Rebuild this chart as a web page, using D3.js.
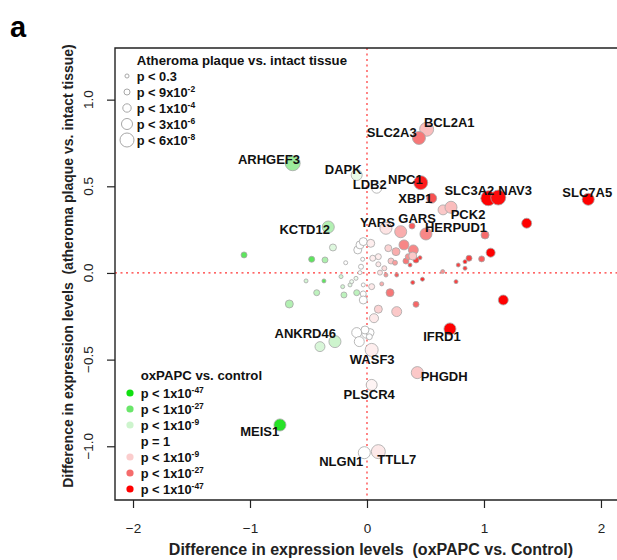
<!DOCTYPE html>
<html><head><meta charset="utf-8">
<script src="https://cdn.jsdelivr.net/npm/d3@7/dist/d3.min.js"></script>
<style>
html,body{margin:0;padding:0;background:#fff;}
svg{display:block;font-family:"Liberation Sans",Arial,sans-serif;}
</style></head>
<body><svg id="chart" width="617" height="560"></svg>
<script>
// ---- data ----
// labelled genes
const genes = ["BCL2A1","SLC2A3","NPC1","XBP1","SLC3A2","NAV3","SLC7A5","PCK2","HERPUD1","YARS","GARS",
 "DAPK","LDB2","ARHGEF3","KCTD12","IFRD1","ANKRD46","WASF3","PHGDH","PLSCR4","MEIS1","NLGN1","TTLL7"];
const geneX = [0.510,0.444,0.459,0.553,1.037,1.122,1.891,0.718,0.504,0.162,0.288,
 -0.088,0.083,-0.635,-0.331,0.709,-0.274,0.040,0.430,0.040,-0.744,-0.023,0.097];
const geneY = [0.829,0.779,0.521,0.431,0.431,0.435,0.425,0.379,0.225,0.258,0.238,
 0.565,0.489,0.633,0.265,-0.323,-0.396,-0.444,-0.575,-0.646,-0.877,-1.037,-1.031];
// signed -log10 p, oxPAPC vs control (negative = lower / green)
const geneOx = [12,25,42,32,47,45,47,12,22,5,15,
 -4,0,-18,-14,47,-9,3,10,2,-42,0,4];
// -log10 p, atheroma plaque vs intact tissue
const geneAth = [7.2,6.65,7.2,4.9,7.85,7.85,6.1,6.1,6.1,6.1,6.1,
 5.5,4.9,7.85,6.1,6.1,6.1,6.65,6.1,5.5,6.1,6.1,7.2];
// unlabelled genes
const otherX = [0.650,1.365,1.009,0.316,0.396,0.248,0.182,0.385,
 -0.291,-0.473,-0.359,-1.051,-0.182,-0.079,-0.060,-0.032,0.032,-0.037,-0.051,-0.060,0.049,0.097,0.097,0.111,0.148,0.162,
 0.205,0.239,0.254,0.333,0.353,0.368,0.419,0.453,0.391,0.647,0.780,0.838,0.838,0.872,0.980,1.057,
 -0.521,-0.368,-0.222,-0.208,-0.145,-0.131,-0.094,-0.430,-0.664,-0.197,-0.088,-0.032,-0.032,-0.032,0.040,0.126,0.197,
 0.391,0.474,0.761,0.419,0.254,0.097,0.060,1.165,
 -0.402,-0.088,-0.066,-0.003,0.026,-0.017,0.020];
const otherY = [0.364,0.287,0.219,0.162,0.133,0.123,0.143,0.271,
 0.147,0.079,0.075,0.104,0.059,0.133,0.162,0.181,0.171,0.079,0.036,0.002,0.085,0.094,0.050,0.002,0.027,-0.012,
 0.069,0.059,-0.012,0.069,0.094,0.046,0.075,0.088,0.098,0.008,0.046,0.027,0.065,0.085,0.081,0.117,
 -0.046,-0.046,-0.021,-0.079,-0.069,-0.050,-0.031,-0.114,-0.179,-0.127,-0.114,-0.069,-0.121,-0.156,-0.079,-0.063,-0.114,
 -0.055,-0.036,-0.050,-0.181,-0.223,-0.209,-0.261,-0.156,
 -0.425,-0.344,-0.396,-0.348,-0.344,-0.329,-0.368];
const otherOx = [10,47,27,22,22,15,8,30,
 -6,-30,-15,-30,0,0,0,0,3,0,0,0,3,3,4,5,6,20,
 10,18,30,25,20,35,35,35,10,20,35,35,40,35,30,47,
 -8,-30,-8,-8,-5,-3,-3,-12,-14,-12,-12,0,0,0,4,15,25,
 35,38,35,28,10,8,4,47,
 -7,0,0,0,0,0,0];
const otherAth = [4.9,4.9,3.5,4.9,4.9,3.5,2.25,1,
 2.25,1,1,1,0.5,3.5,3.5,3.5,3.5,0.5,0.75,0.5,1,1,0.75,0.75,0.75,0.5,
 1,0.75,0.5,1,1,0.5,1,0.5,3.5,0.5,0.5,0.5,0.5,1,1,4.35,
 0.5,0.5,0.5,0.5,0.5,0.5,0.5,1,3.5,1,1,0.5,1,3.5,1,0.5,3.5,
 0.5,0.5,0.5,1,4.9,3.5,4.35,4.9,
 4.9,4.9,4.9,4.9,3.5,3.5,1];
const xTicks = [-2,-1,0,1,2];
const yTicks = [-1,-0.5,0,0.5,1];
const athLegend = [{base:"p < 0.3",sup:"",v:0.523},{base:"p < 9x10",sup:"-2",v:1.046},{base:"p < 1x10",sup:"-4",v:4},{base:"p < 3x10",sup:"-6",v:5.52},{base:"p < 6x10",sup:"-8",v:7.22}];
const oxLegend = [{base:"p < 1x10",sup:"-47",v:-47},{base:"p < 1x10",sup:"-27",v:-27},{base:"p < 1x10",sup:"-9",v:-9},{base:"p = 1",sup:"",v:null},{base:"p < 1x10",sup:"-9",v:9},{base:"p < 1x10",sup:"-27",v:27},{base:"p < 1x10",sup:"-47",v:47}];

// label placement (layout only): anchor, dx, dy in px from the point
const labelPos = {
 BCL2A1:["start",-2.7,-2.1], SLC2A3:["end",-2.3,-0.8], NPC1:["end",2,1.8], XBP1:["end",0.6,4.5],
 SLC3A2:["end",6,-3.1], NAV3:["start",0,-2.5], SLC7A5:["middle",-1,-2], PCK2:["start",-0.3,12.2],
 HERPUD1:["start",-1,-1.8], GARS:["start",-2.4,-9.2], YARS:["end",9,-1.1], DAPK:["end",5,-1.2],
 LDB2:["end",10,0.5], ARHGEF3:["end",7.3,1.2], KCTD12:["end",1.7,6.8], ANKRD46:["end",1,-3.2],
 WASF3:["middle",0.5,13.8], PHGDH:["start",3.4,8.5], PLSCR4:["middle",-2.5,13.8], MEIS1:["end",-0.7,11.2],
 NLGN1:["end",-1,13.5], TTLL7:["start",-1,12.1], IFRD1:["middle",-8,12.5]
};

// ---- scales ----
const W=617,H=560, L=115, T=48, B=500, R=620;
const x = d3.scaleLinear().domain([-2.154,2.137]).range([L,617]);
const y = d3.scaleLinear().domain([-1.31,1.298]).range([B,T]);
const rScale = d3.scaleLinear().domain([0.5,1,4,5.5,7.2,8]).range([2,3,4.2,5.5,7,7.6]);
const col = d3.scaleLinear().domain([-47,-27,-9,0,9,27,47])
  .range(["#10e010","#6ae66a","#cdf4cd","#ffffff","#fbcdcd","#f56c6c","#ff0000"]);

const svg = d3.select("#chart");
svg.append("rect").attr("width",W).attr("height",H).attr("fill","#fff");

// reference lines
svg.append("line").attr("x1",x(0)).attr("x2",x(0)).attr("y1",T).attr("y2",B)
  .attr("stroke","#f33").attr("stroke-width",1.2).attr("stroke-dasharray","2,3.5");
svg.append("line").attr("x1",L).attr("x2",R).attr("y1",y(0)).attr("y2",y(0))
  .attr("stroke","#f33").attr("stroke-width",1.2).attr("stroke-dasharray","2,3.5");

// points
const others = otherX.map((v,i)=>({g:"", x:v, y:otherY[i], ox:otherOx[i], ath:otherAth[i]}));
const labelled = genes.map((g,i)=>({g, x:geneX[i], y:geneY[i], ox:geneOx[i], ath:geneAth[i]}));
const data = others.concat(labelled);
svg.append("g").selectAll("circle").data(data).join("circle")
  .attr("cx",d=>x(d.x)).attr("cy",d=>y(d.y)).attr("r",d=>rScale(d.ath))
  .attr("fill",d=>col(d.ox)).attr("stroke","#a8a8a8").attr("stroke-opacity",0.8).attr("stroke-width",1);

// gene labels
svg.append("g").selectAll("text").data(labelled).join("text")
  .attr("x",d=>x(d.x)+labelPos[d.g][1]).attr("y",d=>y(d.y)+labelPos[d.g][2])
  .attr("text-anchor",d=>labelPos[d.g][0])
  .attr("font-weight","bold").attr("font-size","13px").attr("fill","#111")
  .text(d=>d.g);

// box
svg.append("path").attr("d",`M${R},${T}H${L}V${B}H${R}`).attr("fill","none")
  .attr("stroke","#222").attr("stroke-width",1.4);

// axes
const fmt = d => (d<0?"\u2212":"")+Math.abs(d);
const xa = svg.append("g").attr("transform",`translate(0,${B})`)
  .call(d3.axisBottom(x).tickValues(xTicks).tickSize(8).tickPadding(15).tickFormat(fmt));
xa.select(".domain").remove();
xa.selectAll("text").attr("font-size","13.5px").attr("font-family","Liberation Sans, Arial").attr("fill","#222");
xa.selectAll("line").attr("stroke","#222").attr("stroke-width",1.2);

const ya = svg.append("g").attr("transform",`translate(${L},0)`)
  .call(d3.axisLeft(y).tickValues(yTicks).tickSize(8).tickFormat(()=>""));
ya.select(".domain").remove();
ya.selectAll("line").attr("stroke","#222").attr("stroke-width",1.2);
const yfmt = d => (d<0?"\u2212":"")+d3.format(".1f")(Math.abs(d));
svg.append("g").selectAll("text").data(yTicks).join("text")
  .attr("transform",d=>`translate(93,${y(d)}) rotate(-90)`)
  .attr("text-anchor","middle").attr("font-size","13.5px").attr("fill","#222").text(yfmt);

// axis titles
svg.append("text").attr("x",371).attr("y",555).attr("text-anchor","middle")
  .attr("font-weight","bold").attr("font-size","16px").style("white-space","pre").attr("fill","#222")
  .text("Difference in expression levels  (oxPAPC vs. Control)");
svg.append("text").attr("transform","translate(73,266) rotate(-90)").attr("text-anchor","middle")
  .attr("font-weight","bold").attr("font-size","14px").style("white-space","pre").attr("fill","#222")
  .text("Difference in expression levels  (atheroma plaque vs. intact tissue)");

// panel letter
svg.append("text").attr("x",10).attr("y",37).attr("font-weight","bold").attr("font-size","29px").text("a");

// legend helper
function legendText(g, xx, yy, item){
  const t = g.append("text").attr("x",xx).attr("y",yy).attr("font-weight","bold").attr("font-size","12.8px").attr("fill","#111");
  t.append("tspan").text(item.base);
  if(item.sup) t.append("tspan").attr("dy",-5).attr("font-size","8.5px").text(item.sup);
}
// legend 1
const lg1 = svg.append("g");
lg1.append("text").attr("x",136.7).attr("y",65).attr("font-weight","bold").attr("font-size","13.2px").attr("fill","#111")
  .text("Atheroma plaque vs. intact tissue");
athLegend.forEach((it,i)=>{
  const by = 80.5+i*16;
  lg1.append("circle").attr("cx",127).attr("cy",by-4.5).attr("r",rScale(it.v))
    .attr("fill","#fff").attr("stroke","#a8a8a8").attr("stroke-width",1);
  legendText(lg1,136.7,by,it);
});
// legend 2
const lg2 = svg.append("g");
lg2.append("text").attr("x",140.7).attr("y",380).attr("font-weight","bold").attr("font-size","13.2px").attr("fill","#111")
  .text("oxPAPC vs. control");
oxLegend.forEach((it,i)=>{
  const by = 397.5+i*16;
  if(it.v!==null) lg2.append("circle").attr("cx",130).attr("cy",by-4.5).attr("r",3.6).attr("fill",col(it.v));
  legendText(lg2,140.7,by,it);
});
</script></body></html>
